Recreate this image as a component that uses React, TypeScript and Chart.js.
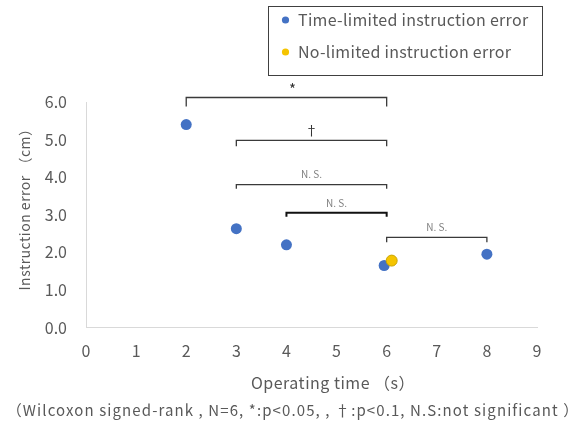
import React, { useEffect, useRef } from "react";
import { Chart, registerables } from "chart.js";

Chart.register(...registerables);

// ---- data ----
const timeLimitedX = [2, 3, 4, 5.95, 8];
const timeLimitedY = [5.4, 2.63, 2.2, 1.65, 1.95];
const noLimitedX = [6.1];
const noLimitedY = [1.78];

const xTicks = [0, 1, 2, 3, 4, 5, 6, 7, 8, 9];
const yTicks = [0, 1, 2, 3, 4, 5, 6];

const bracketFrom = [2, 3, 3, 4, 6];
const bracketTo = [6, 6, 6, 6, 8];
const bracketLevel = [6.12, 4.98, 3.8, 3.05, 2.4];
const bracketLabels = ["*", "†", "N. S.", "N. S.", "N. S."];

const legendLabels = ["Time-limited instruction error", "No-limited instruction error"];
const xTitle = "Operating time （s）";
const yTitle = "Instruction error （cm）";
const footnote = "（Wilcoxon signed-rank , N=6, *:p<0.05, , †:p<0.1, N.S:not significant ）";

// ---- styles ----
const FONT = "'Noto Sans CJK JP', 'Noto Sans', sans-serif";
const TEXT = "#595959";
const BLUE = "#4472C4";
const YELLOW = "#F5C400";
const bracketWidths = [1.3, 1.3, 1.3, 2, 1.3];
const bracketDrops = [9, 6, 4, 4, 5];
const bracketFontSizes = [15, 13, 10, 10, 10];
const bracketTextColors = ["#333333", "#333333", "#7f7f7f", "#7f7f7f", "#7f7f7f"];

function drawText(
  ctx: any,
  text: string,
  x: number,
  y: number,
  size: number,
  spacing: number,
  align: CanvasTextAlign,
  rotate = 0
) {
  ctx.save();
  ctx.translate(x, y);
  if (rotate) ctx.rotate(rotate);
  ctx.font = `${size}px ${FONT}`;
  ctx.letterSpacing = `${spacing}px`;
  ctx.fillStyle = TEXT;
  ctx.textAlign = align;
  ctx.textBaseline = "middle";
  ctx.fillText(text, 0, 0);
  ctx.restore();
}

const overlayPlugin = {
  id: "overlay",
  afterDatasetsDraw(chart: any) {
    const ctx = chart.ctx as CanvasRenderingContext2D;
    const xs = chart.scales.x;
    const ys = chart.scales.y;
    ctx.save();
    // brackets
    for (let i = 0; i < bracketFrom.length; i++) {
      const x1 = xs.getPixelForValue(bracketFrom[i]);
      const x2 = xs.getPixelForValue(bracketTo[i]);
      const y = ys.getPixelForValue(bracketLevel[i]);
      ctx.strokeStyle = i === 3 ? "#111111" : "#3a3a3a";
      ctx.lineWidth = bracketWidths[i];
      ctx.beginPath();
      ctx.moveTo(x1, y + bracketDrops[i]);
      ctx.lineTo(x1, y);
      ctx.lineTo(x2, y);
      ctx.lineTo(x2, y + bracketDrops[i]);
      ctx.stroke();
      ctx.fillStyle = bracketTextColors[i];
      ctx.font = `${bracketFontSizes[i]}px ${FONT}`;
      ctx.textAlign = "center";
      ctx.textBaseline = "middle";
      ctx.fillText(bracketLabels[i], (x1 + x2) / 2 + (i === 0 ? 6 : 0), y - (i === 0 ? 8 : 10));
    }
    // legend
    ctx.strokeStyle = "#404040";
    ctx.lineWidth = 1;
    ctx.strokeRect(268.5, 6.5, 274, 69);
    const colors = [BLUE, YELLOW];
    const rows = [20, 52];
    for (let i = 0; i < legendLabels.length; i++) {
      ctx.fillStyle = colors[i];
      ctx.beginPath();
      ctx.arc(285.5, rows[i], 3.6, 0, Math.PI * 2);
      ctx.fill();
      drawText(ctx, legendLabels[i], 298, rows[i], 16, 0.3, "left");
    }
    // axis titles and footnote
    drawText(ctx, xTitle, 333, 383, 16, 0.5, "center");
    drawText(ctx, yTitle, 25, 206, 14, 0.5, "center", -Math.PI / 2);
    drawText(ctx, footnote, 293, 410.5, 15, 1.1, "center");
    ctx.restore();
  },
};

export default function App() {
  const ref = useRef<HTMLCanvasElement | null>(null);
  useEffect(() => {
    document.body.style.margin = "0";
    const canvas = ref.current!;
    const chart = new Chart(canvas, {
      type: "scatter",
      data: {
        datasets: [
          {
            label: legendLabels[1],
            data: noLimitedX.map((x, i) => ({ x, y: noLimitedY[i] })),
            backgroundColor: YELLOW,
            borderColor: "#C9A400",
            borderWidth: 1,
            pointRadius: 5.5,
            order: 0,
          },
          {
            label: legendLabels[0],
            data: timeLimitedX.map((x, i) => ({ x, y: timeLimitedY[i] })),
            backgroundColor: BLUE,
            borderColor: BLUE,
            borderWidth: 0,
            pointRadius: 5.5,
            order: 1,
          },
        ],
      },
      options: {
        animation: false,
        responsive: false,
        layout: { padding: { top: 102, right: 37, left: 0, bottom: 0 } },
        plugins: {
          legend: { display: false },
          tooltip: { enabled: false },
        },
        scales: {
          x: {
            type: "linear",
            min: xTicks[0],
            max: xTicks[xTicks.length - 1],
            afterBuildTicks: (s: any) => {
              s.ticks = xTicks.map((v) => ({ value: v }));
            },
            grid: { display: false, drawTicks: false },
            border: { display: true, color: "#d9d9d9", width: 1 },
            ticks: {
              color: TEXT,
              font: { family: FONT, size: 16 },
              padding: 14,
            },
            afterFit: (s: any) => {
              s.height = 97.5;
            },
          },
          y: {
            type: "linear",
            min: yTicks[0],
            max: yTicks[yTicks.length - 1],
            afterBuildTicks: (s: any) => {
              s.ticks = yTicks.map((v) => ({ value: v }));
            },
            grid: { display: false, drawTicks: false },
            border: { display: true, color: "#d9d9d9", width: 1 },
            ticks: {
              color: TEXT,
              font: { family: FONT, size: 16 },
              padding: 19,
              callback: (v: any) => Number(v).toFixed(1),
            },
            afterFit: (s: any) => {
              s.width = 86;
            },
          },
        },
      },
      plugins: [overlayPlugin],
    });
    return () => chart.destroy();
  }, []);
  return <canvas ref={ref} width={574} height={425} style={{ display: "block" }} />;
}
